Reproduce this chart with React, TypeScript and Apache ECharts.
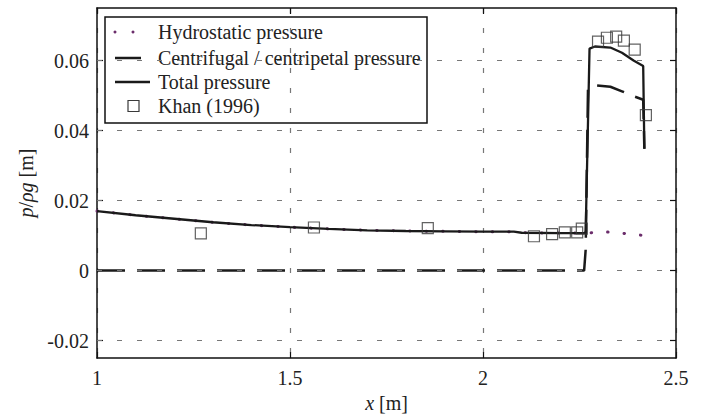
import React, { useEffect, useRef } from "react";
import * as echarts from "echarts";

const FONT = "Liberation Serif, Times New Roman, serif";

const xTicks = [1, 1.5, 2, 2.5];
const yTicks = [-0.02, 0, 0.02, 0.04, 0.06];

const hydroX = [1.0, 1.1, 1.2, 1.3, 1.4, 1.5, 1.6, 1.7, 1.8, 1.9, 2.0, 2.08, 2.1, 2.2, 2.26, 2.27, 2.31, 2.35, 2.41];
const hydroY = [0.017, 0.0158, 0.0148, 0.0138, 0.013, 0.0124, 0.0119, 0.0115, 0.0113, 0.0112, 0.0111, 0.0111, 0.0108, 0.0107, 0.0107, 0.0107, 0.0111, 0.0108, 0.0101];

const centriX = [1.0, 2.262, 2.266, 2.272, 2.28, 2.33, 2.36, 2.39, 2.415, 2.418];
const centriY = [0, 0, 0.006, 0.052, 0.053, 0.0525, 0.0512, 0.0498, 0.0488, 0.0348];

const totalX = [1.0, 1.1, 1.2, 1.3, 1.4, 1.5, 1.6, 1.7, 1.8, 1.9, 2.0, 2.08, 2.1, 2.2, 2.262, 2.266, 2.276, 2.29, 2.33, 2.36, 2.39, 2.415, 2.418];
const totalY = [0.017, 0.0158, 0.0148, 0.0138, 0.013, 0.0124, 0.0119, 0.0115, 0.0113, 0.0112, 0.0111, 0.0111, 0.0108, 0.0107, 0.0107, 0.011, 0.0634, 0.064, 0.0637, 0.0622, 0.06, 0.0584, 0.0348];

const khanX = [1.269, 1.562, 1.857, 2.132, 2.179, 2.212, 2.244, 2.256, 2.298, 2.321, 2.345, 2.365, 2.393, 2.422];
const khanY = [0.0106, 0.0123, 0.0121, 0.0098, 0.0104, 0.0109, 0.0109, 0.012, 0.0654, 0.0665, 0.0668, 0.0657, 0.0631, 0.0444];

const legendLabels = ["Hydrostatic pressure", "Centrifugal / centripetal pressure", "Total pressure", "Khan (1996)"];

const zip = (xs: number[], ys: number[]) => xs.map((x, i) => [x, ys[i]]);

export default function App() {
  const ref = useRef<HTMLDivElement>(null);
  useEffect(() => {
    if (!ref.current) return;
    const chart = echarts.init(ref.current, null, { renderer: "svg" });
    const axisLine = { show: true, onZero: false, lineStyle: { color: "#111", width: 1.5 } };
    const gridDash = { color: "#777", width: 1.2, type: [5, 15] as any };
    const baseText = { fontFamily: FONT, fontSize: 20, color: "#222" };
    const legendTop = 17;
    const rowY = [32, 58, 82, 106];
    const lx0 = 115;
    const lx1 = 150;
    const tx = 158;
    chart.setOption({
      animation: false,
      backgroundColor: "#fff",
      grid: { left: 97, right: 28, top: 8, bottom: 53, containLabel: false },
      xAxis: [
        {
          type: "value", min: 1, max: 2.5, interval: 0.5, position: "bottom",
          axisLine,
          axisTick: { show: true, inside: true, length: 6, lineStyle: { color: "#111", width: 1.2 } },
          axisLabel: { ...baseText, margin: 10, customValues: xTicks, formatter: (v: number) => String(v) },
          splitLine: { show: true, lineStyle: gridDash },
          name: "{i|x} [m]",
          nameLocation: "middle",
          nameGap: 30,
          nameTextStyle: { ...baseText, rich: { i: { ...baseText, fontStyle: "italic" } } },
        },
        {
          type: "value", min: 1, max: 2.5, interval: 0.5, position: "top",
          axisLine,
          axisTick: { show: true, inside: true, length: 6, lineStyle: { color: "#111", width: 1.2 } },
          axisLabel: { show: false },
          splitLine: { show: false },
        },
      ],
      yAxis: [
        {
          type: "value", min: -0.025, max: 0.075, position: "left",
          axisLine,
          axisTick: { show: true, inside: true, length: 6, customValues: yTicks, lineStyle: { color: "#111", width: 1.2 } },
          axisLabel: { ...baseText, margin: 8, customValues: yTicks, formatter: (v: number) => String(Math.round(v * 100) / 100) },
          splitLine: { show: false },
          name: "{i|p}/{i|ρg} [m]",
          nameLocation: "middle",
          nameGap: 58,
          nameRotate: 90,
          nameTextStyle: { ...baseText, rich: { i: { ...baseText, fontStyle: "italic" } } },
        },
        {
          type: "value", min: -0.025, max: 0.075, position: "right",
          axisLine,
          axisTick: { show: true, inside: true, length: 6, customValues: yTicks, lineStyle: { color: "#111", width: 1.2 } },
          axisLabel: { show: false },
          splitLine: { show: false },
        },
      ],
      series: [
        {
          name: legendLabels[0],
          type: "line",
          xAxisIndex: 0, yAxisIndex: 0,
          data: zip(hydroX, hydroY),
          showSymbol: false,
          z: 2,
          lineStyle: { color: "#6b2d6b", width: 3, type: [0.5, 16], cap: "round" },
          markLine: {
            silent: true,
            symbol: "none",
            label: { show: false },
            lineStyle: gridDash,
            data: yTicks.map((v) => ({ yAxis: v })),
          },
        },
        {
          name: legendLabels[1],
          type: "line",
          xAxisIndex: 0, yAxisIndex: 0,
          data: zip(centriX, centriY),
          showSymbol: false,
          z: 3,
          lineStyle: { color: "#1a1a1a", width: 2.5, type: [28, 12] },
        },
        {
          name: legendLabels[2],
          type: "line",
          xAxisIndex: 0, yAxisIndex: 0,
          data: zip(totalX, totalY),
          showSymbol: false,
          z: 4,
          lineStyle: { color: "#1a1a1a", width: 2.3 },
        },
        {
          name: legendLabels[3],
          type: "scatter",
          xAxisIndex: 0, yAxisIndex: 0,
          data: zip(khanX, khanY),
          symbol: "rect",
          symbolSize: 11,
          z: 5,
          itemStyle: { color: "rgba(0,0,0,0)", borderColor: "#3a3a3a", borderWidth: 1.2 },
        },
      ],
      graphic: [
        {
          type: "group",
          z: 100,
          children: [
            { type: "rect", shape: { x: 105, y: legendTop, width: 322, height: 106 }, style: { fill: "#fff", stroke: "#111", lineWidth: 1.5 } },
            { type: "circle", shape: { cx: lx0, cy: rowY[0], r: 1.5 }, style: { fill: "#6b2d6b" } },
            { type: "circle", shape: { cx: lx0 + 18, cy: rowY[0], r: 1.5 }, style: { fill: "#6b2d6b" } },
            { type: "line", shape: { x1: lx0, y1: rowY[1], x2: lx0 + 26, y2: rowY[1] }, style: { stroke: "#1a1a1a", lineWidth: 2.5 } },
            { type: "line", shape: { x1: lx0, y1: rowY[2], x2: lx1, y2: rowY[2] }, style: { stroke: "#1a1a1a", lineWidth: 2.3 } },
            { type: "rect", shape: { x: lx0 + 13, y: rowY[3] - 5.5, width: 11, height: 11 }, style: { fill: "none", stroke: "#3a3a3a", lineWidth: 1.2 } },
            ...legendLabels.map((t, i) => ({
              type: "text",
              x: tx,
              y: rowY[i],
              style: { text: t, fontFamily: FONT, fontSize: 20, fill: "#222", verticalAlign: "middle", align: "left" },
            })),
          ],
        },
      ],
    });
    return () => chart.dispose();
  }, []);
  return <div ref={ref} style={{ width: 704, height: 418, position: "absolute", left: 0, top: 0 }} />;
}
